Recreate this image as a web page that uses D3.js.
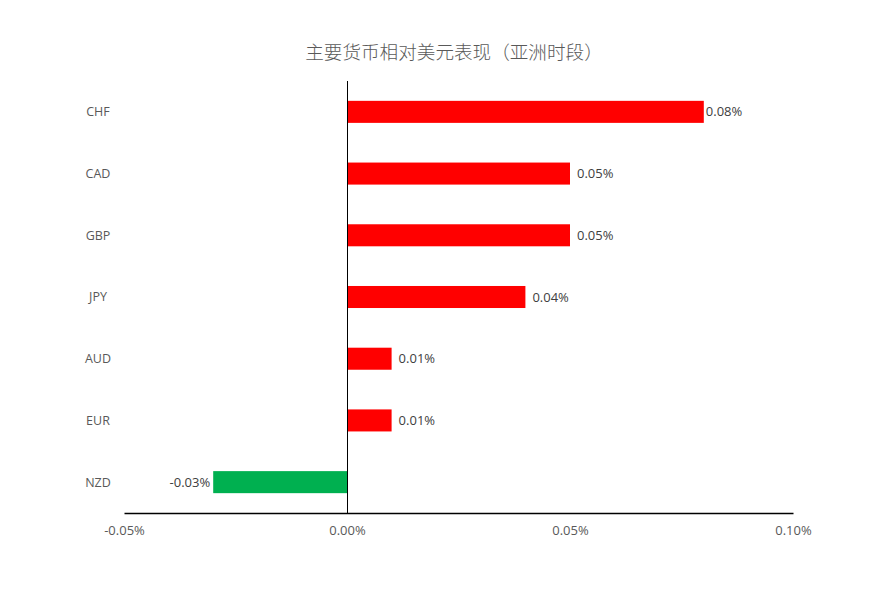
<!DOCTYPE html>
<html>
<head>
<meta charset="utf-8">
<script src="https://cdn.jsdelivr.net/npm/d3@7"></script>
<style>
  body { margin: 0; background: #fff; }
  svg text { font-family: "Open Sans", "Noto Sans CJK SC", sans-serif; }
</style>
</head>
<body>
<div class="chart"></div>
<script>
const title = "主要货币相对美元表现（亚洲时段）";
const currencies = ["CHF", "CAD", "GBP", "JPY", "AUD", "EUR", "NZD"];
const changes = [0.08, 0.05, 0.05, 0.04, 0.01, 0.01, -0.03];
const ticks = [-0.05, 0, 0.05, 0.1];

const width = 869;
const height = 593;

const svg = d3
  .select(".chart")
  .append("svg")
  .attr("width", width)
  .attr("height", height);

svg
  .append("text")
  .attr("x", 454)
  .attr("y", 59)
  .attr("text-anchor", "middle")
  .style("font-family", "'Noto Sans CJK SC', sans-serif")
  .style("font-size", "18.6px")
  .style("font-weight", 300)
  .style("fill", "#595959")
  .text(title);

const x = d3.scaleLinear().domain([-0.05, 0.1]).range([124, 793]);
const y = d3
  .scaleBand()
  .domain(currencies)
  .range([81, 513])
  .paddingInner(0.643)
  .paddingOuter(0.3215);

// bottom axis
const xAxis = d3
  .axisBottom(x)
  .tickValues(ticks)
  .tickSize(0)
  .tickPadding(13)
  .tickFormat(d => d.toFixed(2) + "%");
const gx = svg
  .append("g")
  .attr("transform", "translate(0, 513)")
  .call(xAxis);
gx.select(".domain").attr("stroke", "#000").attr("stroke-width", 1.3);
gx.selectAll("text")
  .style("font-size", "13px")
  .style("fill", "#595959")
  .style("font-family", "'Open Sans', sans-serif");

// category labels
svg
  .append("g")
  .selectAll("text")
  .data(currencies)
  .enter()
  .append("text")
  .attr("x", 98)
  .attr("y", d => y(d) + y.bandwidth() / 2)
  .attr("dy", "0.35em")
  .attr("text-anchor", "middle")
  .style("font-size", "12.5px")
  .style("fill", "#595959")
  .text(d => d);

// bars
svg
  .append("g")
  .selectAll("rect")
  .data(changes)
  .enter()
  .append("rect")
  .attr("x", d => x(Math.min(0, d)))
  .attr("y", (d, i) => y(currencies[i]))
  .attr("width", d => Math.abs(x(d) - x(0)))
  .attr("height", y.bandwidth())
  .style("fill", d => (d >= 0 ? "#FF0000" : "#00B050"));

// zero line
svg
  .append("line")
  .attr("x1", x(0) + 0.5)
  .attr("x2", x(0) + 0.5)
  .attr("y1", 81)
  .attr("y2", 513)
  .attr("stroke", "#000")
  .attr("stroke-width", 1);

// value labels
svg
  .append("g")
  .selectAll("text")
  .data(changes)
  .enter()
  .append("text")
  .attr("x", d => {
    if (d < 0) return x(d) - 3;
    return x(d) > 650 ? x(d) + 2 : x(d) + 7;
  })
  .attr("y", (d, i) => y(currencies[i]) + y.bandwidth() / 2)
  .attr("dy", "0.35em")
  .attr("text-anchor", d => (d < 0 ? "end" : "start"))
  .style("font-size", "13px")
  .style("fill", "#404040")
  .text(d => d.toFixed(2) + "%");
</script>
</body>
</html>
